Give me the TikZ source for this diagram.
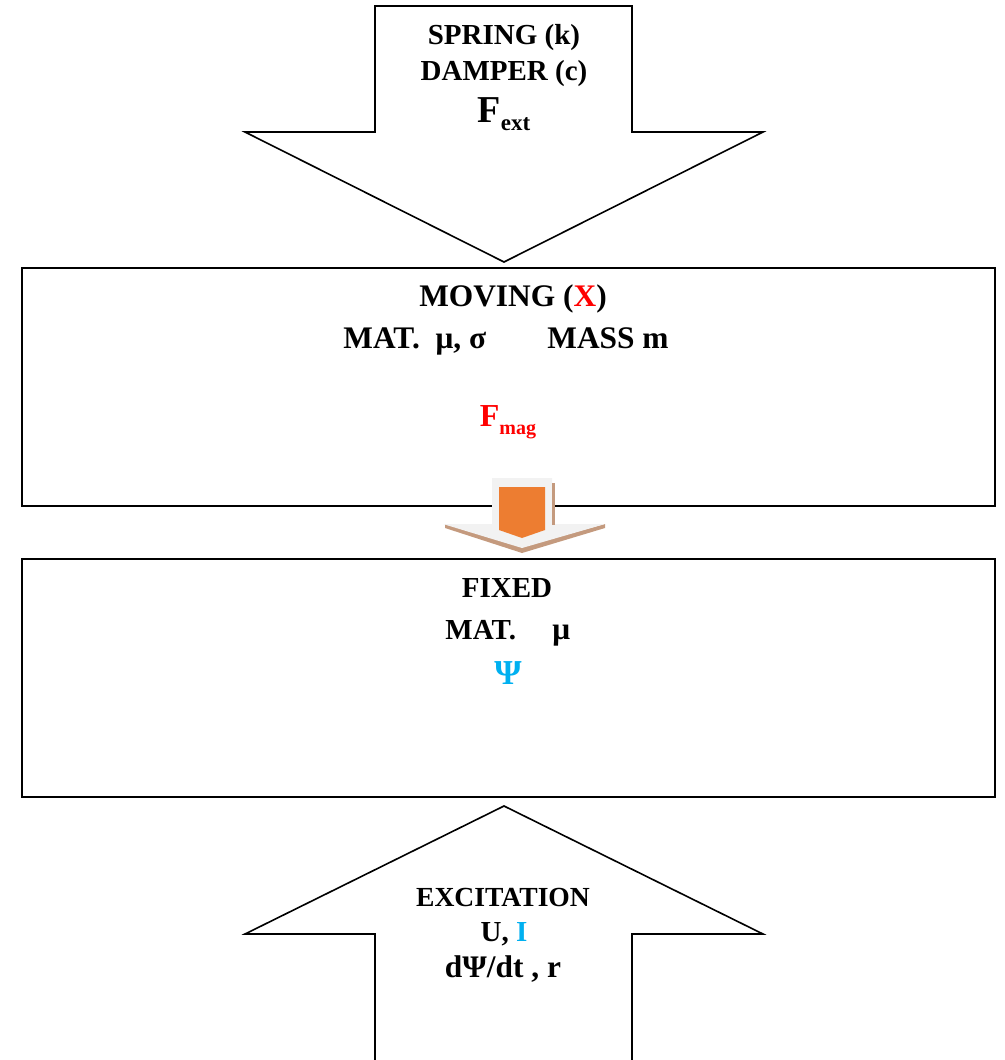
\documentclass[tikz,border=0pt]{standalone}
\usepackage{fontspec}
\setmainfont{Liberation Serif}
\usetikzlibrary{positioning}

\definecolor{excgray}{HTML}{F2F2F2}
\definecolor{excorange}{HTML}{ED7D31}
\definecolor{excshadow}{HTML}{C49A7E}
\definecolor{fluxblue}{HTML}{00B0F0}

\begin{document}
\begin{tikzpicture}[x=0.5pt,y=-0.5pt,
    txt/.style={font=\bfseries\fontsize{14.5}{17}\selectfont, anchor=base, inner sep=0pt},
    bigtxt/.style={txt, font=\bfseries\fontsize{15.7}{18}\selectfont},
    block/.style={draw, line width=0.8pt, inner sep=0pt, minimum width=486.5pt, minimum height=119pt},
    bigarrow/.style={draw, line width=0.8pt, fill=white, line join=miter}]

    \useasboundingbox (0,0) rectangle (1005,1060);

    % the two parts
    \node[block] (moving) at (508.5,387) {};
    \node[block] (fixed) at (508.5,678) {};

    % inputs
    \draw[bigarrow] (375,6) -- (632,6) -- (632,132) -- (763,132) -- (504,262)
        -- (245,132) -- (375,132) -- cycle;
    \draw[bigarrow] (375,1062) -- (375,934) -- (245,934) -- (504,806)
        -- (763,934) -- (632,934) -- (632,1062);

    % force between the parts
    \fill[excshadow] (445,528) -- (522,553) -- (605,528) -- (605,524) -- (522,547) -- (445,524) -- cycle;
    \fill[excgray] (492,478) -- (552,478) -- (552,524) -- (605,524) -- (522,548)
        -- (443,524) -- (492,524) -- cycle;
    \fill[excshadow] (552,483) rectangle (555,525);
    \fill[excorange] (499,487) -- (545,487) -- (545,530) -- (522,538) -- (499,530) -- cycle;

    \node[txt] (spring) at (504,44) {SPRING (k)};
    \node[txt] (damper) at (504,80) {DAMPER (c)};
    \node[txt] (fext) at (504,122) {{\fontsize{19}{22}\selectfont F}\raisebox{-0.3em}{\fontsize{11.5}{13}\selectfont ext}};

    \node[bigtxt] (movlabel) at (513,306) {MOVING (\textcolor{red}{X})};
    \node[bigtxt, anchor=base west] (movmat) at (343,348) {MAT.\ \ μ, σ};
    \node[bigtxt, anchor=base west] (mass) at (547,348) {MASS m};
    \node[txt, red] (fmag) at (508,426) {{\fontsize{16}{18}\selectfont F}\raisebox{-0.3em}{\fontsize{10}{12}\selectfont mag}};

    \node[txt] (fixlabel) at (507,597) {FIXED};
    \node[txt, anchor=base west] (fixmat) at (445,639) {MAT.};
    \node[bigtxt, anchor=base west] (fixmu) at (552,639) {μ};
    \node[txt, fluxblue, font=\bfseries\fontsize{17.5}{20}\selectfont] (psi) at (508,684) {Ψ};

    \node[txt, font=\bfseries\fontsize{13.8}{16}\selectfont] (excit) at (503,906) {EXCITATION};
    \node[txt] (ui) at (504,941) {U, \textcolor{fluxblue}{I}};
    \node[bigtxt] (dpsi) at (503,977) {dΨ/dt , r};

\end{tikzpicture}
\end{document}
